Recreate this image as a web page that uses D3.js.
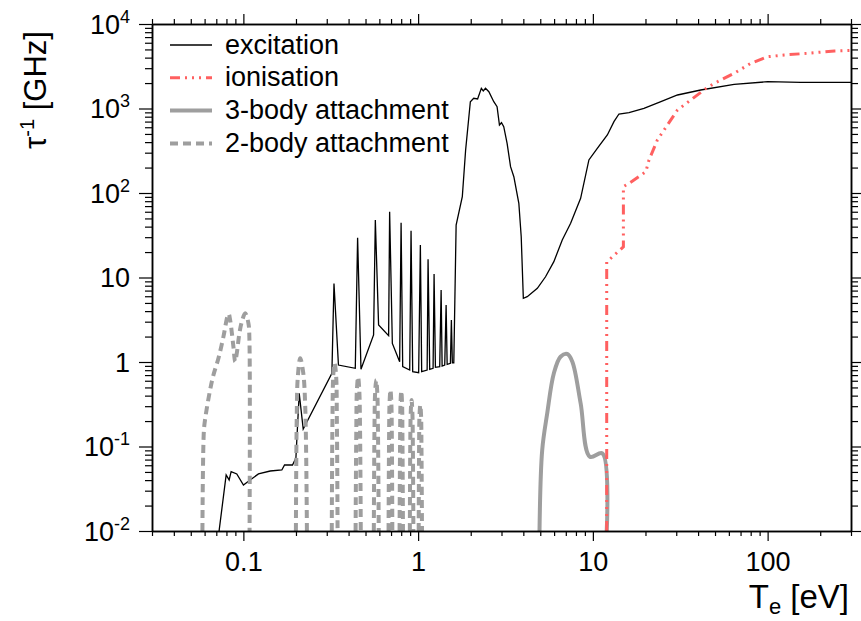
<!DOCTYPE html>
<html>
<head>
<meta charset="utf-8">
<script src="https://cdn.jsdelivr.net/npm/d3@7"></script>
<style>
  body { margin: 0; background: #fff; }
  svg text { font-family: "Liberation Sans", Arial, sans-serif; fill: #000; }
</style>
</head>
<body>
<svg id="chart" width="861" height="621"></svg>
<script>
// Data: [Te (eV), 1/tau (GHz)]
const excitation = [
  [0.0726, 0.01], [0.0797, 0.046], [0.0829, 0.0402], [0.0851, 0.0503], [0.0917, 0.0473],
  [0.1001, 0.035], [0.1093, 0.0402], [0.122, 0.0473], [0.1424, 0.0513], [0.166, 0.0527],
  [0.172, 0.0604], [0.191, 0.0604], [0.1998, 0.0731], [0.2087, 0.427], [0.22, 0.161],
  [0.321, 0.735], [0.33, 8.5], [0.35, 0.92], [0.437, 0.842], [0.4505, 29.6], [0.471, 0.82],
  [0.556, 2.09], [0.569, 47.9], [0.594, 2.74], [0.678, 2.05], [0.687, 60.1], [0.712, 1.66],
  [0.784, 1.01], [0.799, 44.5], [0.816, 0.88], [0.895, 0.804], [0.911, 35.8], [0.931, 0.768],
  [1.007, 0.747], [1.03, 24.3], [1.048, 0.768], [1.126, 0.804], [1.14, 16.4], [1.165, 0.82],
  [1.218, 0.842], [1.234, 11.0], [1.256, 0.865], [1.329, 0.88], [1.354, 7.11], [1.372, 0.897],
  [1.42, 0.92], [1.446, 4.73], [1.466, 0.94], [1.53, 0.966], [1.55, 3.14], [1.57, 0.98],
  [1.6, 0.98], [1.65, 41.8], [1.79, 90.4], [1.87, 323], [1.99, 1204], [2.08, 1321],
  [2.19, 1295], [2.3, 1734], [2.36, 1611], [2.43, 1734], [2.54, 1581], [2.71, 1204],
  [2.83, 1050], [2.92, 638], [3.0, 679], [3.09, 609], [3.23, 387], [3.38, 205], [3.53, 156],
  [3.77, 75.5], [3.89, 30.4], [4.0, 5.67], [4.21, 5.93], [4.81, 7.45], [5.36, 10.2],
  [5.98, 15.4], [6.68, 27.8], [7.46, 43.8], [8.51, 86.5], [9.49, 246], [10.6, 338],
  [12.1, 486], [13.2, 698], [14.1, 861], [16.1, 891], [19.6, 1005], [24.5, 1204],
  [30.5, 1445], [41.4, 1655], [64.3, 1933], [100, 2075], [155, 2042], [300, 2042]
];

const ionisation = [
  [12.0, 0.01], [12.0, 15.4], [12.36, 16.1], [14.95, 23.1], [14.95, 118.8], [16.1, 130],
  [20.1, 178.7], [20.95, 246], [23.4, 424], [26.7, 638], [30.5, 960], [36.3, 1260],
  [45.3, 1782], [51.7, 2075], [64.3, 2610], [80.2, 3427], [100, 4102], [124, 4296],
  [169, 4500], [241, 4790], [300, 4856]
];

const threeBody = [
  [4.95, 0.01], [5.13, 0.091], [5.48, 0.247], [5.98, 0.735], [6.53, 1.155], [7.14, 1.244],
  [7.63, 1.01], [8.51, 0.325], [9.62, 0.0757], [11.33, 0.083], [12.0, 0.01]
];

// 2-body attachment: separate humps
const twoBody = [
  [[0.0583, 0.01], [0.0594, 0.15], [0.0604, 0.21], [0.0645, 0.467], [0.0674, 0.702],
   [0.072, 1.106], [0.0769, 1.995], [0.081, 3.44], [0.0824, 3.7], [0.084, 3.14],
   [0.0877, 1.517], [0.0897, 1.01], [0.0917, 1.268], [0.0949, 2.19], [0.098, 3.0],
   [0.1024, 3.77], [0.1069, 2.87], [0.1083, 1.82], [0.1085, 0.01]],
  [[0.1998, 0.01], [0.2019, 0.206], [0.2047, 0.647], [0.2115, 1.106], [0.22, 0.75], [0.2259, 0.3], [0.231, 0.01]],
  [[0.3205, 0.01], [0.3234, 0.206], [0.327, 0.702], [0.3325, 0.97], [0.3392, 0.702], [0.3428, 0.206], [0.346, 0.01]],
  [[0.4387, 0.01], [0.4428, 0.157], [0.4463, 0.467], [0.4534, 0.664], [0.4605, 0.467], [0.4653, 0.157], [0.4697, 0.01]],
  [[0.5578, 0.01], [0.5622, 0.137], [0.5674, 0.43], [0.5757, 0.612], [0.584, 0.43], [0.5895, 0.137], [0.595, 0.01]],
  [[0.6773, 0.01], [0.6818, 0.119], [0.6863, 0.327], [0.6945, 0.467], [0.7028, 0.327], [0.7075, 0.119], [0.7119, 0.01]],
  [[0.7832, 0.01], [0.7885, 0.119], [0.7926, 0.318], [0.801, 0.454], [0.8095, 0.318], [0.8137, 0.119], [0.819, 0.01]],
  [[0.8967, 0.01], [0.9015, 0.104], [0.9075, 0.256], [0.9171, 0.355], [0.927, 0.256], [0.933, 0.104], [0.9393, 0.01]],
  [[1.0074, 0.01], [1.0128, 0.096], [1.0182, 0.23], [1.029, 0.31], [1.0398, 0.23], [1.0452, 0.096], [1.0524, 0.01]]
];

const xMajor = [0.1, 1, 10, 100];
const xTickLabels = ["0.1", "1", "10", "100"];
const yMajor = [1e-2, 1e-1, 1, 10, 100, 1e3, 1e4];
const yTickLabels = [["10", "-2"], ["10", "-1"], ["1", ""], ["10", ""], ["10", "2"], ["10", "3"], ["10", "4"]];
const legendNames = ["excitation", "ionisation", "3-body attachment", "2-body attachment"];

// Scales
const svg = d3.select("#chart");
const plotLeft = 152, plotRight = 851, plotTop = 24, plotBottom = 531;
const x = d3.scaleLog().domain([0.03, 300]).range([plotLeft, plotRight]);
const y = d3.scaleLog().domain([0.01, 1e4]).range([plotBottom, plotTop]);

const xMinor = x.ticks().filter(d => !xMajor.some(m => Math.abs(m - d) / m < 1e-6));
const yMinor = y.ticks().filter(d => !yMajor.some(m => Math.abs(m - d) / m < 1e-6));

// Line styles
const styles = {
  excitation: { stroke: "#000", width: 1.3, dash: null },
  ionisation: { stroke: "#ff6060", width: 3, dash: "10,5,2,5,2,5,2,5" },
  threeBody: { stroke: "#9e9e9e", width: 4, dash: null },
  twoBody: { stroke: "#9e9e9e", width: 4, dash: "8,5" }
};

svg.append("clipPath").attr("id", "clip")
  .append("rect").attr("x", plotLeft).attr("y", plotTop)
  .attr("width", plotRight - plotLeft).attr("height", plotBottom - plotTop);

const plot = svg.append("g").attr("clip-path", "url(#clip)");

const line = d3.line().x(d => x(d[0])).y(d => y(d[1]));
const smooth = d3.line().x(d => x(d[0])).y(d => y(d[1])).curve(d3.curveCatmullRom.alpha(0.5));

function drawPath(data, gen, st) {
  plot.append("path")
    .datum(data)
    .attr("d", gen)
    .attr("fill", "none")
    .attr("stroke", st.stroke)
    .attr("stroke-width", st.width)
    .attr("stroke-dasharray", st.dash);
}

drawPath(excitation, line, styles.excitation);
drawPath(threeBody, smooth, styles.threeBody);
twoBody.forEach(h => drawPath(h, smooth, styles.twoBody));
drawPath(ionisation, line, styles.ionisation);

// Axes
function styleAxis(g) {
  g.select(".domain").attr("stroke", "#000").attr("stroke-width", 1.5);
  g.selectAll(".tick line").attr("stroke", "#000").attr("stroke-width", 1.2);
}

svg.append("g").attr("transform", `translate(0,${plotBottom})`)
  .call(d3.axisBottom(x).tickValues(xMinor).tickSize(5).tickSizeOuter(0).tickFormat(""))
  .call(styleAxis);
svg.append("g").attr("transform", `translate(0,${plotBottom})`)
  .call(d3.axisBottom(x).tickValues(xMajor).tickSize(10).tickSizeOuter(0).tickPadding(11)
    .tickFormat((d, i) => xTickLabels[i]))
  .call(styleAxis)
  .call(g => g.selectAll("text").attr("font-size", 27).attr("font-family", "Liberation Sans, Arial, sans-serif"));

svg.append("g").attr("transform", `translate(0,${plotTop})`)
  .call(d3.axisTop(x).tickValues(xMinor).tickSize(5).tickSizeOuter(0).tickFormat(""))
  .call(styleAxis);
svg.append("g").attr("transform", `translate(0,${plotTop})`)
  .call(d3.axisTop(x).tickValues(xMajor).tickSize(10).tickSizeOuter(0).tickFormat(""))
  .call(styleAxis);

svg.append("g").attr("transform", `translate(${plotLeft},0)`)
  .call(d3.axisLeft(y).tickValues(yMinor).tickSize(7).tickSizeOuter(0).tickFormat(""))
  .call(styleAxis);
svg.append("g").attr("transform", `translate(${plotLeft},0)`)
  .call(d3.axisLeft(y).tickValues(yMajor).tickSize(13).tickSizeOuter(0).tickFormat(""))
  .call(styleAxis);

svg.append("g").attr("transform", `translate(${plotRight},0)`)
  .call(d3.axisRight(y).tickValues(yMinor).tickSize(7).tickSizeOuter(0).tickFormat(""))
  .call(styleAxis);
svg.append("g").attr("transform", `translate(${plotRight},0)`)
  .call(d3.axisRight(y).tickValues(yMajor).tickSize(10).tickSizeOuter(0).tickFormat(""))
  .call(styleAxis);

// Y tick labels with superscripts
yMajor.forEach((v, i) => {
  const t = svg.append("text")
    .attr("x", 130).attr("y", y(v) + 9.5)
    .attr("text-anchor", "end")
    .attr("font-size", 27);
  t.append("tspan").text(yTickLabels[i][0]);
  if (yTickLabels[i][1]) {
    t.append("tspan").attr("font-size", 18).attr("dy", -11).text(yTickLabels[i][1]);
  }
});

// Axis titles
const xt = svg.append("text")
  .attr("x", 849).attr("y", 608)
  .attr("text-anchor", "end")
  .attr("font-size", 33);
xt.append("tspan").text("T");
xt.append("tspan").attr("font-size", 22).attr("dy", 6).text("e");
xt.append("tspan").attr("dy", -6).text(" [eV]");

const yt = svg.append("text")
  .attr("transform", "translate(46,90) rotate(-90)")
  .attr("text-anchor", "middle")
  .attr("font-size", 31);
yt.append("tspan").text("\u03c4");
yt.append("tspan").attr("font-size", 20).attr("dy", -12).text("-1");
yt.append("tspan").attr("dy", 12).text(" [GHz]");

// Legend
const legendStyles = [styles.excitation, styles.ionisation, styles.threeBody, styles.twoBody];
legendNames.forEach((name, i) => {
  const ly = 45 + i * 32.8;
  const st = legendStyles[i];
  svg.append("line")
    .attr("x1", 170).attr("x2", 212).attr("y1", ly).attr("y2", ly)
    .attr("stroke", st.stroke).attr("stroke-width", st.width)
    .attr("stroke-dasharray", st.dash);
  svg.append("text")
    .attr("x", 225).attr("y", ly + 8.5)
    .attr("font-size", 27)
    .text(name);
});
</script>
</body>
</html>
